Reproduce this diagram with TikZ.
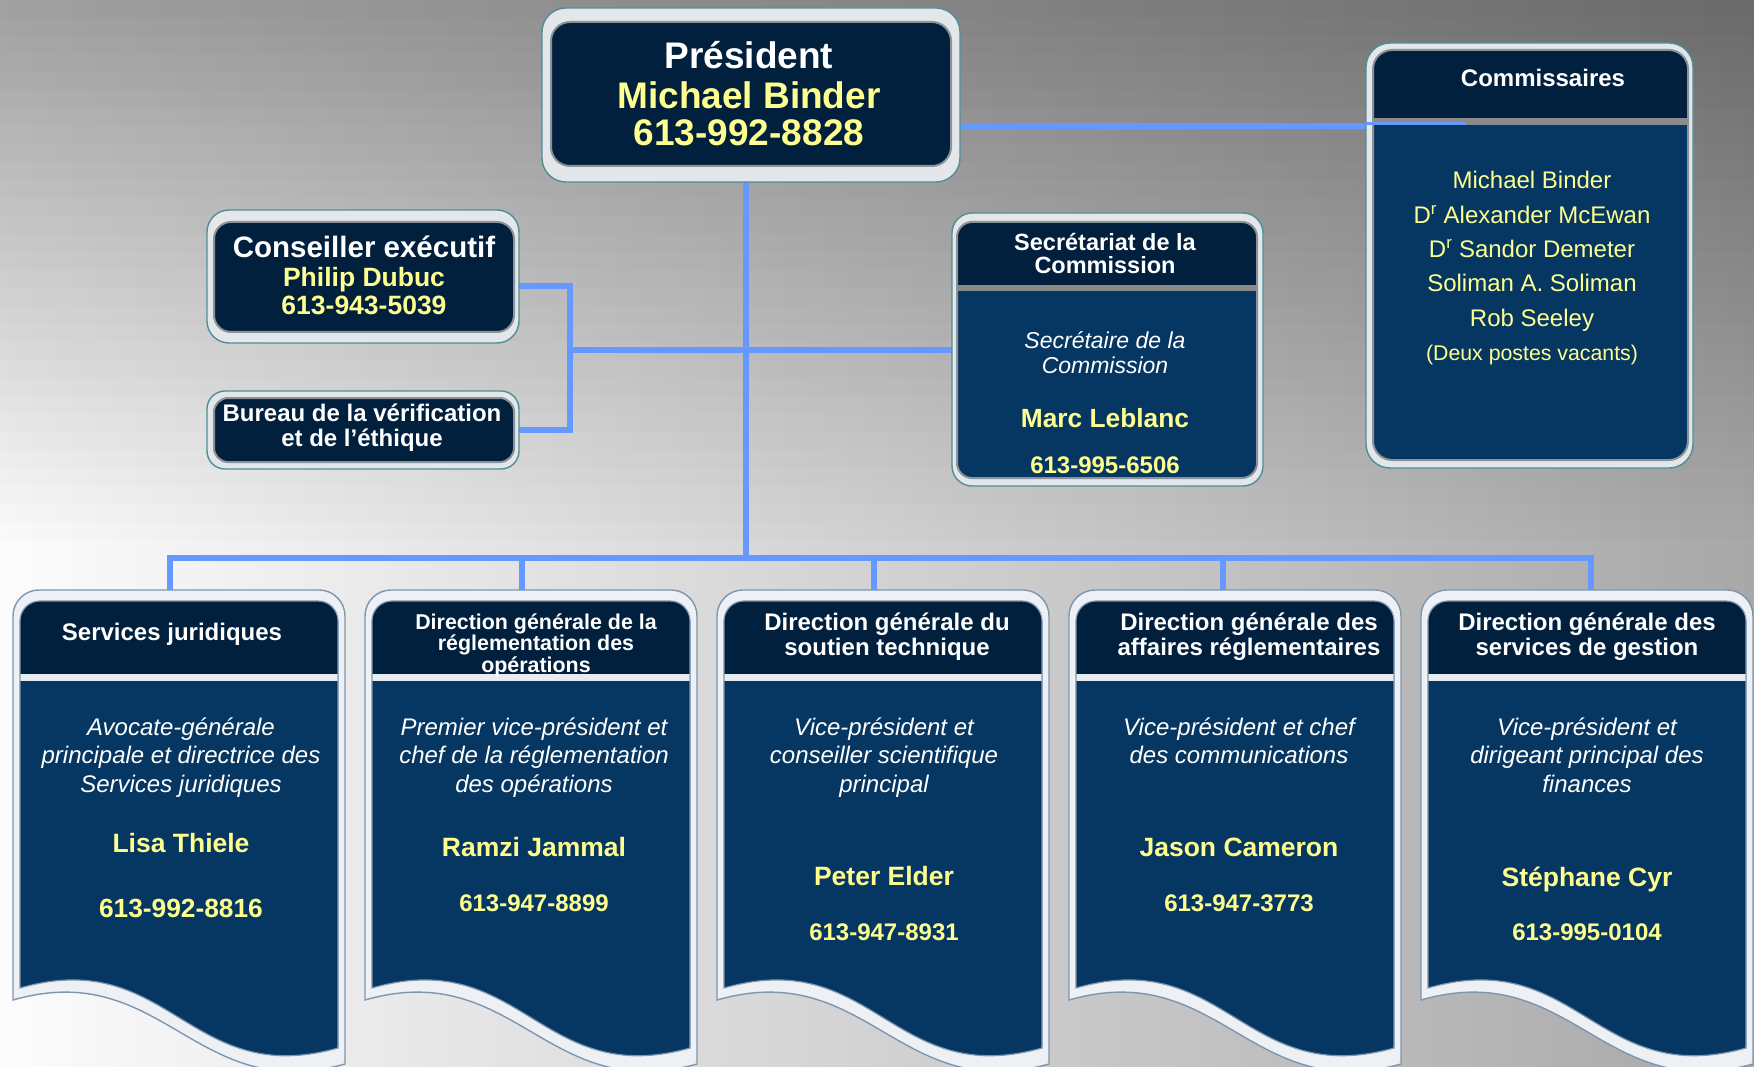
\documentclass[tikz,border=0pt]{standalone}
\usepackage{fontspec}
\setmainfont{Liberation Sans}
\usetikzlibrary{fit}
\definecolor{bgL}{HTML}{FCFCFC}
\definecolor{bgR}{HTML}{A8A8A8}
\definecolor{navyH}{HTML}{00203E}
\definecolor{navyB}{HTML}{063762}
\definecolor{ylw}{HTML}{FFFF90}
\definecolor{conncol}{HTML}{6699FF}
\definecolor{frameF}{HTML}{E3E7EA}
\definecolor{frameE}{HTML}{4E8E96}
\definecolor{ringC}{HTML}{8C9398}
\definecolor{sepG}{HTML}{8A8A8A}
\definecolor{frameBF}{HTML}{EDF1F5}
\definecolor{frameBE}{HTML}{7F95AD}
\definecolor{sepW}{HTML}{E6ECF2}
\begin{document}
\begin{tikzpicture}[x=1pt,y=-1pt,
  conn/.style={draw=conncol, line width=6pt},
  outerA/.style={fill=frameF, draw=frameE, line width=1.4pt},
  ringA/.style={draw=ringC, line width=2pt},
  outerB/.style={fill=frameBF, draw=frameBE, line width=1.4pt},
  ringB/.style={draw=frameBE, line width=1.2pt},
  tb/.style={font=\fontsize{#1}{#1}\selectfont\bfseries, anchor=base, inner sep=0pt, yshift={-0.358*#1}},
  tr/.style={font=\fontsize{#1}{#1}\selectfont, anchor=base, inner sep=0pt, yshift={-0.358*#1}},
  ti/.style={font=\fontsize{#1}{#1}\selectfont\itshape, anchor=base, inner sep=0pt, yshift={-0.358*#1}},
  wt/.style={text=white}, yt/.style={text=ylw},
  area/.style={inner sep=0pt, fit={#1}}
]
\useasboundingbox (0,0) rectangle (1754,1067);
% background
\shade[left color=bgL, right color=bgR] (0,0) rectangle (1754,1067);
\foreach \k in {0,...,29}{
  \pgfmathsetmacro\op{0.36*(1-\k/30)}
  \fill[black, fill opacity=\op] (0,\k*18) rectangle (1754,\k*18+18);
}

% box areas
\node[area={(542,8)(960,182)}] (pres) {};
\node[area={(1366,43)(1693,468)}] (comm) {};
\node[area={(207,210)(519,343)}] (cons) {};
\node[area={(207,391)(519,469)}] (bur) {};
\node[area={(952,213)(1263,486)}] (sec) {};
\node[area={(13,590)(345,1067)}] (b1) {};
\node[area={(365,590)(697,1067)}] (b2) {};
\node[area={(717,590)(1049,1067)}] (b3) {};
\node[area={(1069,590)(1401,1067)}] (b4) {};
\node[area={(1421,590)(1753,1067)}] (b5) {};

\coordinate (lvl1) at (0,126);
\coordinate (commTap) at (1466,123.5);
\coordinate (hub) at (746,350);
\coordinate (brk) at (570,350);
\coordinate (bus) at (746,558);
\coordinate (d1) at (170,558);
\coordinate (d2) at (522,558);
\coordinate (d3) at (874,558);
\coordinate (d4) at (1223,558);
\coordinate (d5) at (1591,558);

% connectors
\draw[conn] (pres.east |- lvl1) -- (comm.west |- lvl1);
\draw[conn] (pres.south -| hub) -- (bus);
\draw[conn] (brk) -- (sec.west |- brk);
\draw[conn] ([yshift=-9.5pt]cons.east) -| (brk) |- (bur.east);
\draw[conn] (d1 |- b1.north) -- (d1) -- (d5) -- (d5 |- b5.north);
\draw[conn] (d2) -- (d2 |- b2.north);
\draw[conn] (d3) -- (d3 |- b3.north);
\draw[conn] (d4) -- (d4 |- b4.north);

% president
\draw[outerA, rounded corners=24] (542,8) rectangle (960,182);
\draw[ringA, fill=navyH, rounded corners=19] (551,22) rectangle (951,166);
% conseiller
\draw[outerA, rounded corners=22] (207,210) rectangle (519,343);
\draw[ringA, fill=navyH, rounded corners=17] (214,222) rectangle (514,332);
% bureau
\draw[outerA, rounded corners=18] (207,391) rectangle (519,469);
\draw[ringA, fill=navyH, rounded corners=14] (214,398) rectangle (514,462);
% secretariat
\draw[outerA, rounded corners=20] (952,213) rectangle (1263,486);
\begin{scope}
  \clip[rounded corners=15] (957,222) rectangle (1257,478);
  \fill[navyB] (957,222) rectangle (1257,478);
  \fill[navyH] (957,222) rectangle (1257,285);
  \fill[sepG] (957,285) rectangle (1257,291);
\end{scope}
\draw[ringA, rounded corners=15] (957,222) rectangle (1257,478);
% commissaires
\draw[outerA, rounded corners=24] (1366,43) rectangle (1693,468);
\begin{scope}
  \clip[rounded corners=19] (1373,50) rectangle (1688,460);
  \fill[navyB] (1373,50) rectangle (1688,460);
  \fill[navyH] (1373,50) rectangle (1688,118);
  \fill[sepG] (1373,118) rectangle (1688,125);
\end{scope}
\draw[ringA, rounded corners=19] (1373,50) rectangle (1688,460);
\draw[draw=conncol, line width=2.5pt] (comm.west |- commTap) -- (commTap);

% bottom boxes
\foreach \L in {13,365,717,1069,1421}{
  \draw[outerB] (\L,800) [rounded corners=26] -- (\L,590) -- (\L+332,590) -- (\L+332,800) [sharp corners] -- (\L+332,1064) .. controls (\L+182,1106) and (\L+150,957) .. (\L,1000) -- cycle;
  \begin{scope}
    \clip (\L+7,800) [rounded corners=20] -- (\L+7,601) -- (\L+325,601) -- (\L+325,800) [sharp corners] -- (\L+325,1048) .. controls (\L+175,1090) and (\L+157,945) .. (\L+7,988) -- cycle;
    \fill[navyB] (\L,595) rectangle (\L+332,1067);
    \fill[navyH] (\L,595) rectangle (\L+332,674);
    \fill[sepW] (\L,674) rectangle (\L+332,681);
  \end{scope}
  \draw[ringB] (\L+7,800) [rounded corners=20] -- (\L+7,601) -- (\L+325,601) -- (\L+325,800) [sharp corners] -- (\L+325,1048) .. controls (\L+175,1090) and (\L+157,945) .. (\L+7,988) -- cycle;
}

% texts: president
\node[tb=37, wt] (presT) at (749,55) {Président};
\node[tb=37, yt] (presN) at (749,95) {Michael Binder};
\node[tb=37, yt] (presP) at (749,132) {613-992-8828};
% conseiller
\node[tb=29.5, wt] (consT) at (364,247) {Conseiller exécutif};
\node[tb=26.5, yt] (consN) at (364,277) {Philip Dubuc};
\node[tb=26.5, yt] (consP) at (364,305) {613-943-5039};
% bureau
\node[tb=24, wt] (burT1) at (362,413) {Bureau de la vérification};
\node[tb=24, wt] (burT2) at (362,438) {et de l’éthique};
% secretariat
\node[tb=23.5, wt] (secH1) at (1105,242) {Secrétariat de la};
\node[tb=23.5, wt] (secH2) at (1105,265) {Commission};
\node[ti=23, wt] (secR1) at (1105,340) {Secrétaire de la};
\node[ti=23, wt] (secR2) at (1105,365) {Commission};
\node[tb=26.3, yt] (secN) at (1105,418) {Marc Leblanc};
\node[tb=24, yt] (secP) at (1105,465) {613-995-6506};
% commissaires
\node[tb=24, wt] (commT) at (1543,78) {Commissaires};
\node[tr=24, yt] (comm1) at (1532,180) {Michael Binder};
\node[tr=24, yt] (comm2) at (1532,215) {D\textsuperscript{r} Alexander McEwan};
\node[tr=24, yt] (comm3) at (1532,249) {D\textsuperscript{r} Sandor Demeter};
\node[tr=24, yt] (comm4) at (1532,283) {Soliman A. Soliman};
\node[tr=24, yt] (comm5) at (1532,318) {Rob Seeley};
\node[tr=21.3, yt] (comm6) at (1532,353) {(Deux postes vacants)};
% box 1
\node[tb=24, wt] (b1H) at (172,632) {Services juridiques};
\node[ti=24, wt] (b1R1) at (181,727) {Avocate-générale};
\node[ti=24, wt] (b1R2) at (181,755) {principale et directrice des};
\node[ti=24, wt] (b1R3) at (181,784) {Services juridiques};
\node[tb=26.5, yt] (b1N) at (181,843) {Lisa Thiele};
\node[tb=26.3, yt] (b1P) at (181,908) {613-992-8816};
% box 2
\node[tb=21.4, wt] (b2H1) at (536,622) {Direction générale de la};
\node[tb=21.4, wt] (b2H2) at (536,643) {réglementation des};
\node[tb=21.4, wt] (b2H3) at (536,665) {opérations};
\node[ti=24, wt] (b2R1) at (534,727) {Premier vice-président et};
\node[ti=24, wt] (b2R2) at (534,755) {chef de la réglementation};
\node[ti=24, wt] (b2R3) at (534,784) {des opérations};
\node[tb=26.5, yt] (b2N) at (534,847) {Ramzi Jammal};
\node[tb=24, yt] (b2P) at (534,903) {613-947-8899};
% box 3
\node[tb=24, wt] (b3H1) at (887,622) {Direction générale du};
\node[tb=24, wt] (b3H2) at (887,647) {soutien technique};
\node[ti=24, wt] (b3R1) at (884,727) {Vice-président et};
\node[ti=24, wt] (b3R2) at (884,755) {conseiller scientifique};
\node[ti=24, wt] (b3R3) at (884,784) {principal};
\node[tb=26.5, yt] (b3N) at (884,876) {Peter Elder};
\node[tb=24, yt] (b3P) at (884,932) {613-947-8931};
% box 4
\node[tb=24, wt] (b4H1) at (1249,622) {Direction générale des};
\node[tb=24, wt] (b4H2) at (1249,647) {affaires réglementaires};
\node[ti=24, wt] (b4R1) at (1239,727) {Vice-président et chef};
\node[ti=24, wt] (b4R2) at (1239,755) {des communications};
\node[tb=26.5, yt] (b4N) at (1239,847) {Jason Cameron};
\node[tb=24, yt] (b4P) at (1239,903) {613-947-3773};
% box 5
\node[tb=24, wt] (b5H1) at (1587,622) {Direction générale des};
\node[tb=24, wt] (b5H2) at (1587,647) {services de gestion};
\node[ti=24, wt] (b5R1) at (1587,727) {Vice-président et};
\node[ti=24, wt] (b5R2) at (1587,755) {dirigeant principal des};
\node[ti=24, wt] (b5R3) at (1587,784) {finances};
\node[tb=26.5, yt] (b5N) at (1587,877) {Stéphane Cyr};
\node[tb=24, yt] (b5P) at (1587,932) {613-995-0104};
\end{tikzpicture}
\end{document}
